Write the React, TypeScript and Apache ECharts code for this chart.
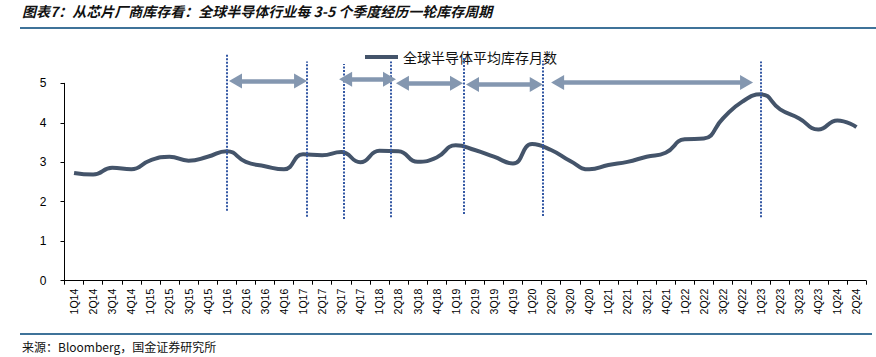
import React, { useEffect, useRef } from 'react';
import * as echarts from 'echarts';

const categories = [
  '1Q14', '2Q14', '3Q14', '4Q14', '1Q15', '2Q15', '3Q15', '4Q15',
  '1Q16', '2Q16', '3Q16', '4Q16', '1Q17', '2Q17', '3Q17', '4Q17',
  '1Q18', '2Q18', '3Q18', '4Q18', '1Q19', '2Q19', '3Q19', '4Q19',
  '1Q20', '2Q20', '3Q20', '4Q20', '1Q21', '2Q21', '3Q21', '4Q21',
  '1Q22', '2Q22', '3Q22', '4Q22', '1Q23', '2Q23', '3Q23', '4Q23',
  '1Q24', '2Q24',
];

const inventoryMonths = [
  2.73, 2.69, 2.86, 2.82, 3.05, 3.14, 3.04, 3.14,
  3.28, 3.01, 2.90, 2.82, 3.20, 3.18, 3.26, 3.00,
  3.29, 3.28, 3.01, 3.12, 3.43, 3.31, 3.14, 2.97,
  3.46, 3.31, 3.03, 2.82, 2.93, 3.01, 3.14, 3.24,
  3.58, 3.60, 4.11, 4.53, 4.72, 4.34, 4.11, 3.83,
  4.06, 3.89,
];

const seriesName = '全球半导体平均库存月数';
const titleText = '图表7：从芯片厂商库存看：全球半导体行业每 3-5 个季度经历一轮库存周期';
const sourceText = '来源：Bloomberg，国金证券研究所';

// Annotation positions, in quarter units (0 = left edge of 1Q14, 1 per quarter)
const cycleMarkerX = [8.5, 12.69, 14.65, 17.11, 20.9, 25.06, 36.49];
const cycleMarkerTop = [5.72, 5.55, 5.49, 5.55, 5.67, 5.57, 5.55];
const cycleMarkerBottom = [1.77, 1.62, 1.56, 1.61, 1.69, 1.64, 1.61];

const arrowStart = [8.96, 14.73, 17.71, 21.38, 25.84];
const arrowEnd = [12.37, 17.03, 20.54, 24.72, 35.74];
const arrowLevel = [5.06, 5.1, 5.0, 4.97, 5.02];

const yTicks = { min: 0, max: 5, interval: 1 };

export default function App() {
  const ref = useRef<HTMLDivElement>(null);

  useEffect(() => {
    if (!ref.current) return;
    const chart = echarts.init(ref.current, null, { renderer: 'svg' });

    const markerData = cycleMarkerX.map((x, i) => ({
      coords: [
        [x, cycleMarkerBottom[i]],
        [x, cycleMarkerTop[i]],
      ],
    }));
    const arrowData = arrowStart.map((x, i) => ({
      coords: [
        [x, arrowLevel[i]],
        [arrowEnd[i], arrowLevel[i]],
      ],
    }));

    const latin = '"Liberation Sans", Arial, "Noto Sans CJK SC", sans-serif';
    const cjk = '"Noto Sans CJK SC", "Liberation Sans", sans-serif';

    chart.setOption({
      animation: false,
      backgroundColor: '#fff',
      textStyle: { fontFamily: latin },
      grid: { left: 64.5, right: 10, top: 83.3, bottom: 76.3, containLabel: false },
      legend: {
        data: [seriesName],
        left: 360,
        top: 45,
        icon: 'rect',
        itemWidth: 33,
        itemHeight: 4,
        textStyle: { fontSize: 14, color: '#111', fontFamily: cjk },
      },
      xAxis: [
        {
          type: 'category',
          data: categories,
          boundaryGap: true,
          axisLine: { lineStyle: { color: '#000', width: 1 } },
          axisTick: { show: true, length: 4, alignWithLabel: false, lineStyle: { color: '#000' } },
          axisLabel: {
            interval: 0,
            rotate: 90,
            fontSize: 10.5,
            color: '#000',
            margin: 8,
            fontFamily: latin,
          },
          splitLine: { show: false },
        },
        {
          type: 'value',
          min: 0,
          max: categories.length,
          show: false,
        },
      ],
      yAxis: {
        type: 'value',
        min: yTicks.min,
        max: yTicks.max,
        interval: yTicks.interval,
        axisLine: { show: true, lineStyle: { color: '#000', width: 1 } },
        axisTick: { show: true, length: 4, lineStyle: { color: '#000' } },
        axisLabel: { fontSize: 12, color: '#000', margin: 18, fontFamily: latin },
        splitLine: { show: false },
      },
      series: [
        {
          name: seriesName,
          type: 'line',
          data: inventoryMonths,
          smooth: 0.5,
          symbol: 'none',
          lineStyle: { color: '#44546a', width: 4 },
          itemStyle: { color: '#44546a' },
          z: 3,
        },
        {
          type: 'lines',
          coordinateSystem: 'cartesian2d',
          xAxisIndex: 1,
          yAxisIndex: 0,
          clip: false,
          silent: true,
          symbol: 'none',
          lineStyle: { color: '#3458a4', width: 2, type: [2, 1.5], opacity: 1, curveness: 0 },
          data: markerData,
          z: 4,
        },
        {
          type: 'lines',
          coordinateSystem: 'cartesian2d',
          xAxisIndex: 1,
          yAxisIndex: 0,
          clip: false,
          silent: true,
          symbol: ['triangle', 'triangle'],
          symbolSize: [
            [15, 13],
            [15, 13],
          ],
          lineStyle: { color: '#8497b0', width: 4.5, opacity: 1, curveness: 0 },
          data: arrowData,
          z: 5,
        },
      ],
      graphic: [
        {
          type: 'text',
          x: 22,
          y: 10.5,
          style: {
            text: titleText,
            fontSize: 14,
            fontWeight: 'bold',
            fontStyle: 'italic',
            fontFamily: cjk,
            fill: '#111',
            verticalAlign: 'middle',
          },
        },
        {
          type: 'line',
          shape: { x1: 20, y1: 28, x2: 876, y2: 28 },
          style: { stroke: '#3f7399', lineWidth: 2 },
        },
        {
          type: 'line',
          shape: { x1: 20, y1: 334, x2: 872, y2: 334 },
          style: { stroke: '#3f7399', lineWidth: 2 },
        },
        {
          type: 'text',
          x: 22,
          y: 346,
          style: {
            text: sourceText,
            fontSize: 12,
            fontFamily: cjk,
            fill: '#111',
            verticalAlign: 'middle',
          },
        },
      ],
    });

    return () => chart.dispose();
  }, []);

  return (
    <div
      ref={ref}
      style={{ position: 'absolute', left: 0, top: 0, width: 876, height: 357 }}
    />
  );
}
